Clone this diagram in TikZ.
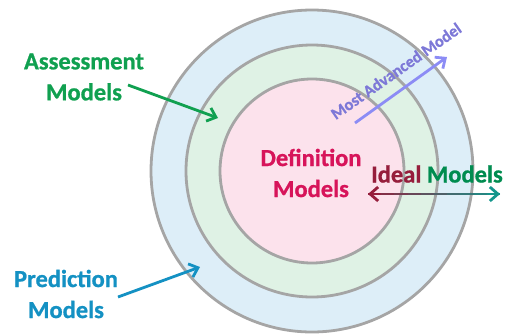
\documentclass[tikz,border=0pt]{standalone}
\usepackage{fontspec}
\setmainfont{Carlito}[BoldFeatures={FakeBold=0.8}]
\usetikzlibrary{arrows.meta}
\usetikzlibrary{calc}

\definecolor{ringgray}{RGB}{165,165,165}
\definecolor{outerblue}{RGB}{221,238,248}
\definecolor{midgreen}{RGB}{223,242,229}
\definecolor{innerpink}{RGB}{252,226,236}
\definecolor{assessgreen}{RGB}{16,160,80}
\definecolor{predblue}{RGB}{20,145,195}
\definecolor{defred}{RGB}{215,20,90}
\definecolor{idealred}{RGB}{150,30,60}
\definecolor{idealgreen}{RGB}{0,140,80}
\definecolor{idealteal}{RGB}{20,150,140}
\definecolor{advviolet}{RGB}{125,120,215}
\definecolor{advarrow}{RGB}{140,140,245}

\begin{document}
\begin{tikzpicture}[x=1pt, y=-1pt,
	line/.style={>={Straight Barb[length=8pt,width=14pt]}, line width=2.8pt},
	ring/.style={draw=ringgray, line width=2.8pt},
	label/.style={font=\bfseries\fontsize{24.5}{31}\selectfont, align=center}]

	\useasboundingbox (0,0) rectangle (506,335);

	\coordinate (c) at (312,171);

	\filldraw[ring, fill=outerblue] (c) circle (161pt);
	\filldraw[ring, fill=midgreen] (c) circle (126pt);
	\filldraw[ring, fill=innerpink] (c) circle (92pt);

	\node[label, text=assessgreen] (assess) at (84,77) {Assessment\\Models};
	\node[label, text=predblue] (pred) at (66,294) {Prediction\\Models};
	\node[label, text=defred] (defn) at (311,173) {Definition\\Models};
	\node[label] (ideal) at (437,174) {\textcolor{idealred}{Ideal} \textcolor{idealgreen}{Models}};
	\node[font=\bfseries\fontsize{16.5}{18}\selectfont, text=advviolet, rotate=35] (adv) at (396,71) {Most Advanced Model};

	\coordinate (assess0) at (128,85);
	\coordinate (assess1) at (218,118);
	\coordinate (pred0) at (118,297);
	\coordinate (pred1) at (200,267);
	\coordinate (adv0) at (355,123);
	\coordinate (adv1) at (447,57);
	\coordinate (il) at (368,194);
	\coordinate (ir) at (500,194);

	\draw[->, line, color=assessgreen] (assess0) -- (assess1);
	\draw[->, line, color=predblue] (pred0) -- (pred1);
	\draw[->, line, color=advarrow] (adv0) -- (adv1);

	% shaft of the two-way arrow, red to teal
	\foreach \i in {0,...,9} {
		\pgfmathsetmacro{\mixpct}{\i*10+5}
		\draw[line, color=idealteal!\mixpct!idealred]
			($(il)!\i/10!(ir)$) -- ($(il)!\i/10+0.1!(ir)$);
	}
	\draw[<-, line, color=idealred] (il) -- ($(il)!0.08!(ir)$);
	\draw[->, line, color=idealteal] ($(ir)!0.08!(il)$) -- (ir);

\end{tikzpicture}
\end{document}
